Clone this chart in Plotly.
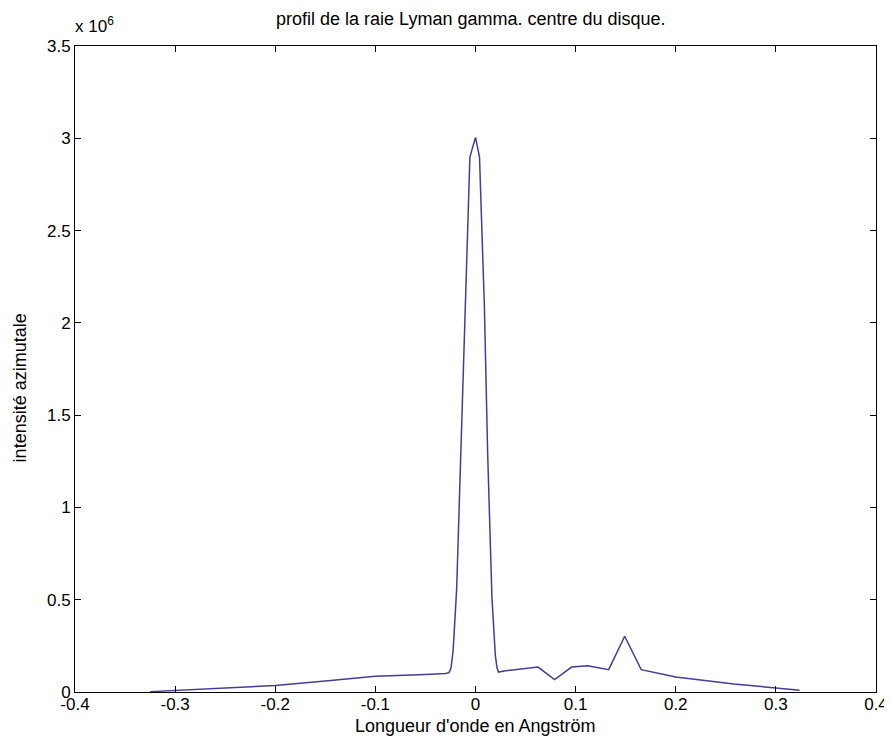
import plotly.graph_objects as go

# Wavelength offset (Angstrom) and azimuthal intensity (in units of 1e6)
longueur_onde = [-0.325, -0.3, -0.25, -0.2, -0.15, -0.1, -0.05, -0.03, -0.0264,
                 -0.0245, -0.0224, -0.0188, -0.016, -0.0132, -0.0096, -0.0056, 0.0,
                 0.004, 0.0089, 0.0121, 0.0164, 0.0198, 0.0215, 0.023, 0.03, 0.0625,
                 0.079, 0.096, 0.112, 0.133, 0.149, 0.1655, 0.2, 0.258, 0.3, 0.3236]
intensite_e6 = [0.002, 0.009, 0.022, 0.035, 0.06, 0.085, 0.095, 0.1, 0.105,
                0.13, 0.22, 0.56, 1.056, 1.544, 2.085, 2.898, 3.005,
                2.898, 2.085, 1.3, 0.514, 0.2, 0.13, 0.108, 0.115, 0.135,
                0.067, 0.135, 0.142, 0.121, 0.302, 0.121, 0.081, 0.043, 0.022, 0.009]

x_ticks = [-0.4, -0.3, -0.2, -0.1, 0, 0.1, 0.2, 0.3, 0.4]
x_tick_labels = ["-0.4", "-0.3", "-0.2", "-0.1", "0", "0.1", "0.2", "0.3", "0.4"]
y_ticks_e6 = [0, 0.5, 1, 1.5, 2, 2.5, 3, 3.5]
y_tick_labels = ["0", "0.5", "1", "1.5", "2", "2.5", "3", "3.5"]

intensite = [v * 1e6 for v in intensite_e6]
y_ticks = [v * 1e6 for v in y_ticks_e6]

fig = go.Figure()
fig.add_trace(go.Scatter(x=longueur_onde, y=intensite, mode="lines",
                         line=dict(color="#463c96", width=1.5),
                         showlegend=False, hoverinfo="skip"))

font = "Liberation Sans, Arial, sans-serif"
axis_common = dict(showline=True, linecolor="black", linewidth=1, mirror="ticks",
                   ticks="inside", ticklen=6, tickcolor="black", showgrid=False,
                   zeroline=False, tickfont=dict(family=font, size=17, color="black"))

fig.update_layout(
    width=892, height=738,
    margin=dict(l=67, r=15, t=38, b=54),
    paper_bgcolor="white", plot_bgcolor="white",
    font=dict(family=font, color="black"),
    xaxis=dict(range=[-0.4, 0.4], tickvals=x_ticks, ticktext=x_tick_labels,
               ticklabelstandoff=-3, **axis_common),
    yaxis=dict(range=[0, 3.5e6], tickvals=y_ticks, ticktext=y_tick_labels,
               **axis_common),
    annotations=[
        dict(text="profil de la raie Lyman gamma. centre du disque.",
             xref="paper", yref="paper", x=0.494, y=1.0, yshift=27,
             xanchor="center", yanchor="middle", showarrow=False,
             font=dict(family=font, size=18, color="black")),
        dict(text="Longueur d'onde en Angström",
             xref="paper", yref="paper", x=0.5, y=0.0, yshift=-34,
             xanchor="center", yanchor="middle", showarrow=False,
             font=dict(family=font, size=18, color="black")),
        dict(text="intensité azimutale", textangle=-90,
             xref="paper", yref="paper", x=0.0, y=0.47, xshift=-55,
             xanchor="center", yanchor="middle", showarrow=False,
             font=dict(family=font, size=18, color="black")),
        dict(text="x 10<sup>6</sup>", xref="paper", yref="paper",
             x=-0.003, y=1.0, xanchor="left", yanchor="bottom", yshift=8,
             showarrow=False, font=dict(family=font, size=17, color="black")),
    ],
)

fig.write_html("out.html")
